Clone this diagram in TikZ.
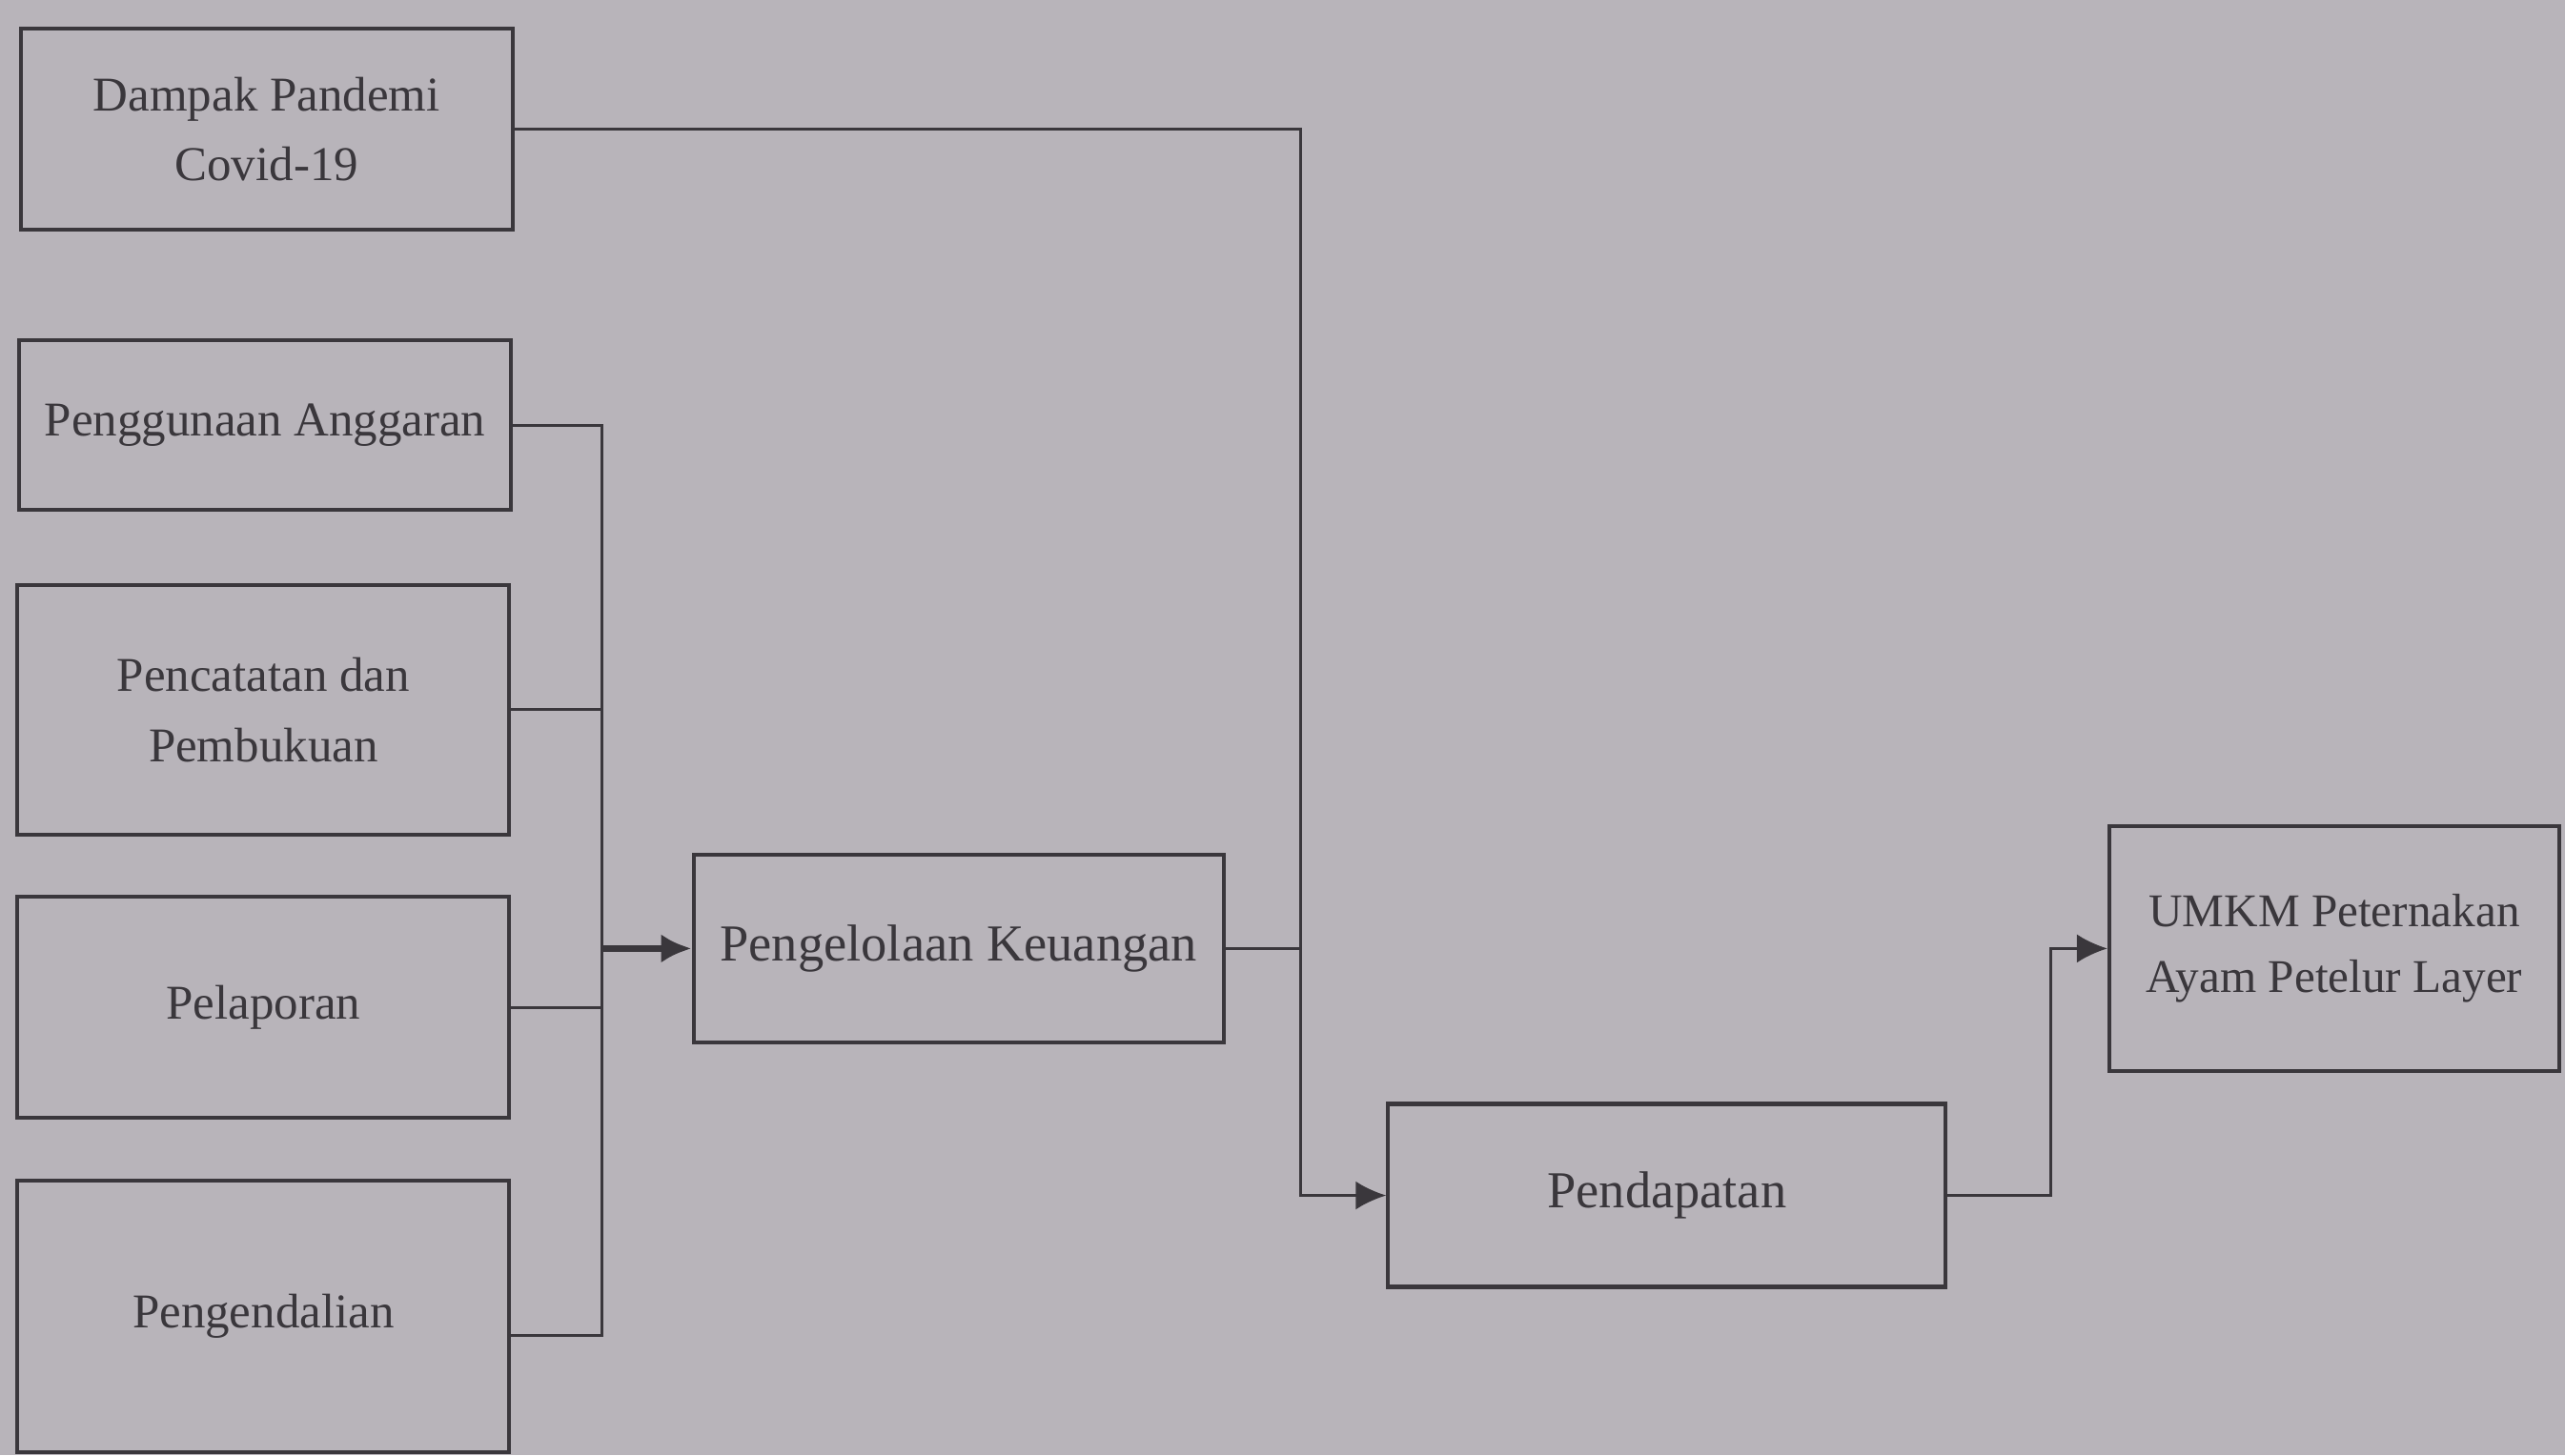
\documentclass[tikz,border=0pt]{standalone}
\usepackage{fontspec}
\setmainfont{Liberation Serif}
\usetikzlibrary{arrows.meta}
\usetikzlibrary{positioning}
\definecolor{paper}{RGB}{184,180,186}
\definecolor{ink}{RGB}{58,55,60}
\tikzset{
    >={Latex[width=3mm,length=3.2mm]},
    base/.style =   {
                        rectangle, draw=ink, line width=1.2pt,
                        text centered, text=ink, align=center,
                        font=\fontsize{14.5}{21}\selectfont
                    },
    factor/.style = {base, minimum width=5.16cm},
    process/.style = {base, font=\fontsize{15.5}{21}\selectfont},
    target/.style = {base, font=\fontsize{14}{19.5}\selectfont},
    link/.style = {draw=ink, line width=0.9pt}
}
\begin{document}
\begin{tikzpicture}[x=0.01716cm, y=-0.01716cm]
    \fill[paper] (0,0) rectangle (1568,890);

    \node (dampak)        [factor, minimum height=2.11cm] at (163,79)  {Dampak Pandemi\\Covid-19};
    \node (anggaran)      [factor, minimum height=1.78cm] at (162,260) {Penggunaan Anggaran};
    \node (pencatatan)    [factor, minimum height=2.62cm] at (161,434) {Pencatatan dan\\Pembukuan};
    \node (pelaporan)     [factor, minimum height=2.32cm] at (161,616) {Pelaporan};
    \node (pengendalian)  [factor, minimum height=2.85cm] at (161,805) {Pengendalian};

    \node (keuangan)      [process, minimum width=5.56cm, minimum height=1.97cm] at (586,580) {Pengelolaan Keuangan};
    \node (pendapatan)    [process, minimum width=5.85cm, minimum height=1.92cm] at (1019,731) {Pendapatan};
    \node (umkm)          [target, minimum width=4.72cm, minimum height=2.57cm] at (1427,580) {UMKM Peternakan\\Ayam Petelur Layer};

    \coordinate (bus)   at (368,580);
    \coordinate (trunk) at (795,731);

    \draw[link]           (anggaran.east) -| (bus);
    \draw[link]           ([yshift=-0.2cm]pengendalian.east) -| (bus);
    \draw[link]           (pencatatan.east) -- (pencatatan.east -| bus);
    \draw[link]           (pelaporan.east) -- (pelaporan.east -| bus);
    \draw[link, ->, line width=2pt] (bus) -- (keuangan.west);

    \draw[link, ->]       (dampak.east) -| (trunk) -- (pendapatan.west);
    \draw[link]           (keuangan.east) -- (keuangan.east -| trunk);
    \draw[link, ->]       (pendapatan.east) -- ++(63,0) |- (umkm.west);
\end{tikzpicture}
\end{document}
